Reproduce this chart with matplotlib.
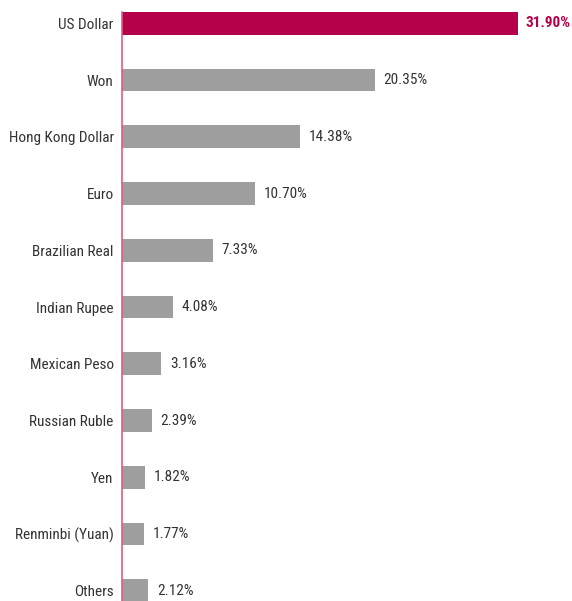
import matplotlib
matplotlib.use("Agg")
import matplotlib.pyplot as plt

categories = ["US Dollar", "Won", "Hong Kong Dollar", "Euro", "Brazilian Real",
              "Indian Rupee", "Mexican Peso", "Russian Ruble", "Yen",
              "Renminbi (Yuan)", "Others"]
values = [31.90, 20.35, 14.38, 10.70, 7.33, 4.08, 3.16, 2.39, 1.82, 1.77, 2.12]
value_labels = ["31.90%", "20.35%", "14.38%", "10.70%", "7.33%", "4.08%",
                "3.16%", "2.39%", "1.82%", "1.77%", "2.12%"]

plt.rcParams["font.family"] = ["Roboto Condensed", "DejaVu Sans"]

highlight = "#B5004A"
gray = "#9E9E9E"
textc = "#333333"
fsz = 11

fig = plt.figure(figsize=(5.72, 6.01), dpi=100)
ax = fig.add_axes([122 / 572, 0, 1 - 122 / 572, 589 / 601])

colors = [highlight] + [gray] * (len(values) - 1)
y = list(range(len(values)))
ax.barh(y, values, height=0.4, color=colors, zorder=2)

ax.set_xlim(0, 36.26)
ax.set_ylim(10.18, -0.2)

for i, (v, lab) in enumerate(zip(values, value_labels)):
    if i == 0:
        ax.text(v + 0.65, i, lab, va="center", ha="left", fontsize=fsz,
                color=highlight, fontweight="bold")
    else:
        ax.text(v + 0.7, i, lab, va="center", ha="left", fontsize=fsz,
                color=textc)

ax.set_yticks(y)
ax.set_yticklabels(categories, fontsize=fsz, color=textc)
ax.tick_params(axis="y", length=0, pad=6)
ax.set_xticks([])
for s in ["top", "right", "bottom"]:
    ax.spines[s].set_visible(False)
ax.spines["left"].set_color("#DE5C8C")
ax.spines["left"].set_linewidth(1.2)

fig.savefig("out.png", dpi=100)
